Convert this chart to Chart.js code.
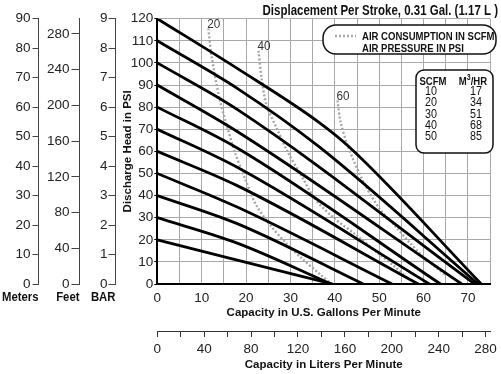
<!DOCTYPE html>
<html lang="en">
<head>
<meta charset="UTF-8">
<title>Pump performance curve</title>
<script src="https://cdn.jsdelivr.net/npm/chart.js"></script>
<style>
  body { margin: 0; background: #fff; }
  canvas { display: block; }
</style>
</head>
<body>
<canvas id="pumpChart" width="501" height="374"></canvas>
<script>
  // air pressure curves, [GPM, PSI]
  const psi20  = [[0, 20], [18, 10.8], [39.5, 0]];
  const psi30  = [[0, 30], [18, 18.5], [39.2, 0]];
  const psi40  = [[0, 40], [18, 27.3], [46.4, 0]];
  const psi50  = [[0, 50], [18, 34.8], [52.9, 0]];
  const psi60  = [[0, 60], [18, 44.5], [58.8, 0]];
  const psi70  = [[0, 70], [18, 52.8], [61.3, 0]];
  const psi80  = [[0, 80], [18, 61.5], [63.8, 0]];
  const psi90  = [[0, 90], [18, 69], [68.6, 0]];
  const psi100 = [[0, 100], [18, 79], [71.5, 0]];
  const psi110 = [[0, 110], [18, 88.5], [36.5, 62], [72.3, 0]];
  const psi120 = [[0, 120], [18, 97.5], [36.5, 73], [43.5, 61.5], [73, 0]];

  // air consumption curves (SCFM), dashed grey
  const scfm20 = [[11.5, 115.5], [12.2, 103.5], [14, 84], [15.9, 70], [17.4, 60], [19.8, 47.5], [22.2, 36], [25.3, 27], [29, 18.5], [32.6, 11.5], [36.6, 4.5], [39.3, 0]];
  const scfm40 = [[22.8, 105.5], [23.5, 93], [24.6, 81], [27, 70], [29.3, 60], [32.6, 48.5], [35.5, 38.5], [39.7, 30], [44.9, 22], [50, 13.5], [53.7, 7.5], [56.5, 2.5]];
  const scfm60 = [[40.6, 83], [41.3, 73.3], [43.1, 61.5], [46.4, 46.4], [50, 34.3], [54, 25.3], [56.6, 19.3], [59.5, 13.2], [62.5, 8], [65, 4]];
  const airLabels = ['20', '40', '60'];

  // SCFM -> M3/HR table
  const scfmTable = [10, 20, 30, 40, 50];
  const m3hrTable = [17, 34, 51, 68, 85];

  const FONT = "'Liberation Sans', Arial, sans-serif";
  Chart.defaults.font.family = FONT;
  Chart.defaults.color = '#222';

  const pressureCurves = [psi20, psi30, psi40, psi50, psi60, psi70, psi80, psi90, psi100, psi110, psi120];
  const airCurves = [scfm20, scfm40, scfm60];

  function toPoints(arr) {
    return arr.map(p => ({ x: p[0], y: p[1] }));
  }

  const datasets = [];
  pressureCurves.forEach(c => {
    datasets.push({
      data: toPoints(c),
      borderColor: '#000',
      borderWidth: 2.8,
      pointRadius: 0,
      cubicInterpolationMode: 'monotone',
      xAxisID: 'x',
      yAxisID: 'y'
    });
  });
  airCurves.forEach((c, i) => {
    datasets.push({
      label: airLabels[i],
      data: toPoints(c),
      borderColor: '#a6a6a6',
      borderWidth: 2.4,
      borderDash: [2, 2],
      pointRadius: 0,
      tension: 0.3,
      xAxisID: 'x',
      yAxisID: 'y'
    });
  });

  function roundBox(ctx, x, y, w, h, r) {
    ctx.beginPath();
    ctx.moveTo(x + r, y);
    ctx.arcTo(x + w, y, x + w, y + h, r);
    ctx.arcTo(x + w, y + h, x, y + h, r);
    ctx.arcTo(x, y + h, x, y, r);
    ctx.arcTo(x, y, x + w, y, r);
    ctx.closePath();
  }

  // the original lettering is a narrow face, so squeeze it a little
  function narrowText(ctx, text, x, y, align, sx) {
    const w = ctx.measureText(text).width * sx;
    let left = x;
    if (align === 'right') left = x - w;
    else if (align === 'center') left = x - w / 2;
    ctx.save();
    ctx.translate(left, y);
    ctx.scale(sx, 1);
    ctx.textAlign = 'left';
    ctx.fillText(text, 0, 0);
    ctx.restore();
    return w;
  }

  const annotations = {
    id: 'annotations',
    afterDraw(chart) {
      const ctx = chart.ctx;
      const sx = chart.scales.x, sy = chart.scales.y;
      ctx.save();
      ctx.fillStyle = '#111';
      ctx.textBaseline = 'alphabetic';

      // title
      ctx.font = 'bold 14px ' + FONT;
      narrowText(ctx, 'Displacement Per Stroke, 0.31 Gal. (1.17 L )', 498, 15, 'right', 0.82);

      // names under the left scales
      ctx.font = 'bold 13.5px ' + FONT;
      [['meters', 'Meters'], ['feet', 'Feet'], ['bar', 'BAR']].forEach(([id, name]) => {
        narrowText(ctx, name, chart.scales[id].right, 301, 'right', 0.84);
      });

      // labels on the air curves
      ctx.font = '13px ' + FONT;
      ctx.fillStyle = '#333';
      airCurves.forEach((c, i) => {
        narrowText(ctx, airLabels[i], sx.getPixelForValue(c[0][0]) - 1, sy.getPixelForValue(c[0][1]) - 1, 'left', 0.9);
      });

      // legend box
      ctx.fillStyle = '#fff';
      ctx.strokeStyle = '#111';
      ctx.lineWidth = 1.5;
      roundBox(ctx, 323, 25, 173, 29, 13);
      ctx.fill();
      ctx.stroke();
      ctx.strokeStyle = '#a6a6a6';
      ctx.lineWidth = 2.4;
      ctx.setLineDash([2, 2]);
      ctx.beginPath();
      ctx.moveTo(335, 36);
      ctx.lineTo(356, 36);
      ctx.stroke();
      ctx.setLineDash([]);
      ctx.fillStyle = '#111';
      ctx.font = 'bold 11.5px ' + FONT;
      narrowText(ctx, 'AIR CONSUMPTION IN SCFM', 362, 39.5, 'left', 0.83);
      narrowText(ctx, 'AIR PRESSURE IN PSI', 362, 51.5, 'left', 0.83);

      // SCFM / M3/HR table
      ctx.fillStyle = '#fff';
      ctx.strokeStyle = '#111';
      ctx.lineWidth = 1.5;
      roundBox(ctx, 416, 70, 77, 83, 8);
      ctx.fill();
      ctx.stroke();
      ctx.fillStyle = '#111';
      ctx.font = 'bold 11.5px ' + FONT;
      narrowText(ctx, 'SCFM', 433, 85, 'center', 0.83);
      // M3/HR with a raised 3
      const k = 0.83;
      const wM = ctx.measureText('M').width * k;
      const wHR = ctx.measureText('/HR').width * k;
      ctx.font = 'bold 8.5px ' + FONT;
      const w3 = ctx.measureText('3').width * k;
      const hx = 473 - (wM + w3 + wHR) / 2;
      ctx.font = 'bold 11.5px ' + FONT;
      narrowText(ctx, 'M', hx, 85, 'left', k);
      narrowText(ctx, '/HR', hx + wM + w3, 85, 'left', k);
      ctx.font = 'bold 8.5px ' + FONT;
      narrowText(ctx, '3', hx + wM, 80, 'left', k);

      ctx.font = '12.5px ' + FONT;
      scfmTable.forEach((v, i) => {
        const by = 95 + i * 11.25;
        narrowText(ctx, String(v), 431, by, 'center', 0.86);
        narrowText(ctx, String(m3hrTable[i]), 476, by, 'center', 0.86);
      });
      ctx.restore();
    }
  };

  const tickFont = { size: 13.5 };
  const titleFont = { size: 11.5, weight: 'bold' };

  new Chart(document.getElementById('pumpChart'), {
    type: 'line',
    data: { datasets: datasets },
    options: {
      responsive: false,
      animation: false,
      layout: { padding: { top: 18.7, right: 2, left: 0, bottom: 0 } },
      plugins: { legend: { display: false }, tooltip: { enabled: false } },
      scales: {
        x: {
          type: 'linear', position: 'bottom', min: 0, max: 75, weight: 0,
          ticks: { stepSize: 5, autoSkip: false, maxRotation: 0, padding: 6, font: tickFont, color: '#222',
                   callback: v => (v % 10 === 0 ? v : '') },
          grid: { color: '#a8a8a8', lineWidth: 1, drawTicks: false },
          border: { color: '#000', width: 2 },
          title: { display: true, text: 'Capacity in U.S. Gallons Per Minute', color: '#111',
                   font: titleFont, padding: { top: 0, bottom: 11 } },
          afterFit: s => { s.height = 47; }
        },
        liters: {
          type: 'linear', position: 'bottom', min: 0, max: 283.9, weight: 1,
          ticks: { stepSize: 20, includeBounds: false, autoSkip: false, maxRotation: 0, padding: 4, font: tickFont, color: '#222',
                   callback: v => (v % 40 === 0 ? v : '') },
          grid: { drawOnChartArea: false, color: '#333', tickLength: 6 },
          border: { color: '#333', width: 1 },
          title: { display: true, text: 'Capacity in Liters Per Minute', color: '#111',
                   font: titleFont, padding: { top: 0, bottom: 2 } },
          afterFit: s => { s.height = 43; }
        },
        y: {
          position: 'left', min: 0, max: 120, weight: 0,
          ticks: { stepSize: 10, padding: 1, font: tickFont, color: '#222' },
          grid: { color: '#a8a8a8', lineWidth: 1, tickColor: '#000', tickLength: 3 },
          border: { color: '#000', width: 2 },
          title: { display: true, text: 'Discharge Head in PSI', color: '#111',
                   font: titleFont, padding: { top: 5, bottom: 0 } },
          afterFit: s => { s.width = 41.8; }
        },
        bar: {
          position: 'left', min: 0, max: 9, weight: 1,
          ticks: { stepSize: 1, padding: 1, font: tickFont, color: '#222' },
          grid: { drawOnChartArea: false, color: '#444', tickLength: 7 },
          border: { color: '#444', width: 1 },
          afterFit: s => { s.width = 36; }
        },
        feet: {
          position: 'left', min: 0, max: 297, weight: 2,
          ticks: { stepSize: 40, includeBounds: false, padding: 2, font: tickFont, color: '#222' },
          grid: { drawOnChartArea: false, color: '#444', tickLength: 8 },
          border: { color: '#444', width: 1 },
          afterFit: s => { s.width = 41; }
        },
        meters: {
          position: 'left', min: 0, max: 90, weight: 3,
          ticks: { stepSize: 10, padding: 2, font: tickFont, color: '#222' },
          grid: { drawOnChartArea: false, color: '#444', tickLength: 6 },
          border: { color: '#444', width: 1 },
          afterFit: s => { s.width = 38.5; }
        }
      }
    },
    plugins: [annotations]
  });
</script>
</body>
</html>
